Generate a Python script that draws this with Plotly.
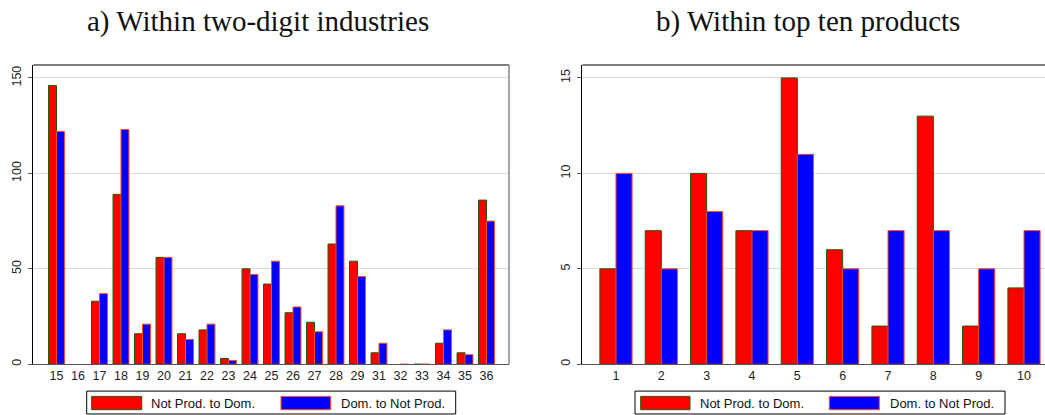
import plotly.graph_objects as go

# Panel a: two-digit industries
industries = ["15", "16", "17", "18", "19", "20", "21", "22", "23", "24", "25",
              "26", "27", "28", "29", "31", "32", "33", "34", "35", "36"]
ind_not_to_dom = [146, None, 33, 89, 16, 56, 16, 18, 3, 50, 42,
                  27, 22, 63, 54, 6, None, 0, 11, 6, 86]
ind_dom_to_not = [122, None, 37, 123, 21, 56, 13, 21, 2, 47, 54,
                  30, 17, 83, 46, 11, 0, 0, 18, 5, 75]

# Panel b: top ten products
products = ["1", "2", "3", "4", "5", "6", "7", "8", "9", "10"]
prod_not_to_dom = [5, 7, 10, 7, 15, 6, 2, 13, 2, 4]
prod_dom_to_not = [10, 5, 8, 7, 11, 5, 7, 7, 5, 7]

series_names = ["Not Prod. to Dom.", "Dom. to Not Prod."]

W, H = 1045, 415
RED, RED_LINE = "#ff0000", "#1f5c00"
BLUE, BLUE_LINE = "#0000ff", "#ff4a1a"
SANS = "Liberation Sans, Arial, sans-serif"
SERIF = "Liberation Serif, Times New Roman, serif"


def px_x(v):
    return v / W


def px_y(v):
    return 1 - v / H


fig = go.Figure()

ind_idx = list(range(len(industries)))
prod_idx = list(range(1, len(products) + 1))

bw_a, bw_b = 0.37, 0.355
fig.add_trace(go.Bar(x=ind_idx, y=ind_not_to_dom, width=bw_a, offset=-bw_a,
                     marker=dict(color=RED, line=dict(color=RED_LINE, width=1)),
                     name=series_names[0], xaxis="x", yaxis="y"))
fig.add_trace(go.Bar(x=ind_idx, y=ind_dom_to_not, width=bw_a, offset=0,
                     marker=dict(color=BLUE, line=dict(color=BLUE_LINE, width=1)),
                     name=series_names[1], xaxis="x", yaxis="y"))
fig.add_trace(go.Bar(x=prod_idx, y=prod_not_to_dom, width=bw_b, offset=-bw_b,
                     marker=dict(color=RED, line=dict(color=RED_LINE, width=1)),
                     name=series_names[0], xaxis="x2", yaxis="y2"))
fig.add_trace(go.Bar(x=prod_idx, y=prod_dom_to_not, width=bw_b, offset=0,
                     marker=dict(color=BLUE, line=dict(color=BLUE_LINE, width=1)),
                     name=series_names[1], xaxis="x2", yaxis="y2"))

ydom = [px_y(366), px_y(65.3)]
tickfont = dict(family=SANS, size=12.5, color="#222222")

xcommon = dict(showgrid=False, zeroline=False, showline=True, linecolor="#555555",
               linewidth=1, ticks="", tickfont=tickfont, fixedrange=True)
ycommon = dict(showgrid=True, gridcolor="#dcdcdc", gridwidth=1, zeroline=False,
               showline=True, linecolor="#000000", linewidth=1, ticks="outside",
               ticklen=4, tickcolor="#555555", tickangle=-90, tickfont=tickfont,
               ticklabelstandoff=2, fixedrange=True)

fig.update_layout(
    width=W, height=H,
    margin=dict(l=0, r=0, t=0, b=0),
    paper_bgcolor="white", plot_bgcolor="white",
    barmode="overlay", showlegend=False,
    xaxis=dict(domain=[px_x(33.3), px_x(509)], range=[-1.079, 21.047],
               tickvals=ind_idx, ticktext=industries, anchor="y", **xcommon),
    yaxis=dict(domain=ydom, range=[0, 156.8], tickvals=[0, 50, 100, 150],
               anchor="x", **ycommon),
    xaxis2=dict(domain=[px_x(582.3), 1.0], range=[0.257, 10.463],
                tickvals=prod_idx, ticktext=products, anchor="y2", **xcommon),
    yaxis2=dict(domain=ydom, range=[0, 15.68], tickvals=[0, 5, 10, 15],
                anchor="x2", **ycommon),
)

shapes = []
# frame: black top edge, grey right edge
for xa, ya in (("x", "y"), ("x2", "y2")):
    shapes.append(dict(type="line", xref=f"{xa} domain", yref=f"{ya} domain",
                       x0=0, x1=1, y0=1, y1=1, line=dict(color="#000000", width=1)))
shapes.append(dict(type="line", xref="x domain", yref="y domain",
                   x0=1, x1=1, y0=0, y1=1, line=dict(color="#888888", width=1.5)))

annotations = []
# titles
annotations.append(dict(text="a) Within two-digit industries", x=px_x(258), y=px_y(22),
                        xref="paper", yref="paper", showarrow=False,
                        xanchor="center", yanchor="middle",
                        font=dict(family=SERIF, size=29, color="#111111")))
annotations.append(dict(text="b) Within top ten products", x=px_x(808), y=px_y(22),
                        xref="paper", yref="paper", showarrow=False,
                        xanchor="center", yanchor="middle",
                        font=dict(family=SERIF, size=29, color="#111111")))

# legends drawn as a framed box with wide keys
legend_specs = [
    dict(box=(86.7, 455.7), keys=[(91.7, 141.7, 149.3), (281, 330.7, 339)]),
    dict(box=(635, 1005), keys=[(640.7, 690, 698.3), (829.3, 879.3, 888.3)]),
]
styles = [(RED, RED_LINE), (BLUE, BLUE_LINE)]
for spec in legend_specs:
    bx0, bx1 = spec["box"]
    shapes.append(dict(type="rect", xref="paper", yref="paper",
                       x0=px_x(bx0), x1=px_x(bx1), y0=px_y(416), y1=px_y(393),
                       line=dict(color="#000000", width=1), fillcolor="white"))
    for (kx0, kx1, tx), (fc, lc), label in zip(spec["keys"], styles, series_names):
        shapes.append(dict(type="rect", xref="paper", yref="paper",
                           x0=px_x(kx0), x1=px_x(kx1), y0=px_y(411.7), y1=px_y(398.3),
                           line=dict(color=lc, width=1), fillcolor=fc))
        annotations.append(dict(text=label, x=px_x(tx), y=px_y(405),
                                xref="paper", yref="paper", showarrow=False,
                                xanchor="left", yanchor="middle",
                                font=dict(family=SANS, size=13, color="#111111")))

fig.update_layout(shapes=shapes, annotations=annotations)

fig.write_html("out.html")
